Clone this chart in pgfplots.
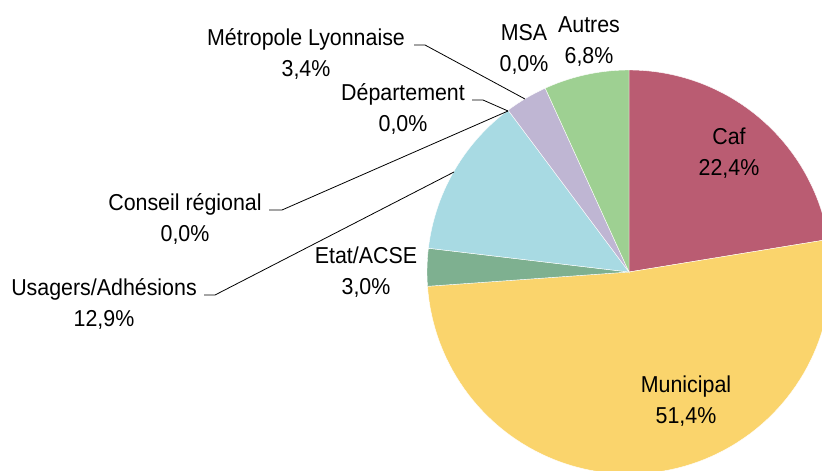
\documentclass[border=0pt]{standalone}
\usepackage{pgfplots}
\pgfplotsset{compat=1.18}
\usepackage{fontspec}
\setmainfont[FakeStretch=0.93]{Liberation Sans}

\definecolor{cafc}{RGB}{186,92,114}
\definecolor{munc}{RGB}{250,212,108}
\definecolor{etatc}{RGB}{126,176,144}
\definecolor{usac}{RGB}{168,218,227}
\definecolor{metc}{RGB}{191,182,211}
\definecolor{autc}{RGB}{158,208,146}

% start / end in cumulative percent (total 99.9), colour
\newcommand{\slice}[3]{%
  \addplot[fill=#3, draw=white, line width=0.4pt, domain=#1*3.6036:#2*3.6036,
    samples=90, variable=\t]
    ({629+202*sin(\t)},{272-202*cos(\t)}) -- (axis cs:629,272) -- cycle;}
% label: x, first baseline, line 1, line 2
\newcommand{\lab}[4]{%
  \node[anchor=base] at (axis cs:#1,#2) {#3};
  \node[anchor=base] at (axis cs:#1,#2+31.5) {#4};}

\begin{document}
\begin{tikzpicture}[font=\fontsize{23}{28}\selectfont]
\path[use as bounding box] (0,0) rectangle (822pt,471pt);
\begin{axis}[
  scale only axis, width=822pt, height=471pt,
  xmin=0, xmax=822, ymin=0, ymax=471, y dir=reverse,
  hide axis, clip=true,
]
\slice{0}{22.4}{cafc}
\slice{22.4}{73.8}{munc}
\slice{73.8}{76.8}{etatc}
\slice{76.8}{89.7}{usac}
\slice{89.7}{93.1}{metc}
\slice{93.1}{99.9}{autc}

% leader lines
\addplot[black, line width=0.8pt] coordinates {(414,45) (425,45) (525,99)};
\addplot[black, line width=0.8pt] coordinates {(472,100) (483,100) (508,111)};
\addplot[black, line width=0.8pt] coordinates {(269,210) (282,210) (508,111)};
\addplot[black, line width=0.8pt] coordinates {(204,295) (215,295) (454,172)};

\lab{306}{45}{Métropole Lyonnaise}{3,4\%}
\lab{403}{100}{Département}{0,0\%}
\lab{524}{40}{MSA}{0,0\%}
\lab{589}{32}{Autres}{6,8\%}
\lab{729}{144}{Caf}{22,4\%}
\lab{185}{210}{Conseil régional}{0,0\%}
\lab{104}{295}{Usagers/Adhésions}{12,9\%}
\lab{366}{263}{Etat/ACSE}{3,0\%}
\lab{686}{392}{Municipal}{51,4\%}
\end{axis}
\end{tikzpicture}
\end{document}
